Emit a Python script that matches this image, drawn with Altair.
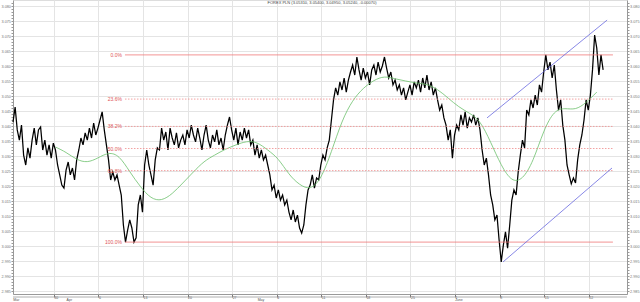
import altair as alt
import pandas as pd

# ---------------- data ----------------
start_time = "2009-03-23 14:00"
step = "8h"

price = [
    3.0413, 3.0463, 3.0387, 3.0353, 3.0403, 3.0303, 3.0270, 3.0327, 3.0293, 3.0353,
    3.0393, 3.0337, 3.0387, 3.0397, 3.0320, 3.0353, 3.0303, 3.0337, 3.0293, 3.0343,
    3.0320, 3.0270, 3.0237, 3.0203, 3.0193, 3.0253, 3.0280, 3.0237, 3.0260, 3.0220,
    3.0287, 3.0320, 3.0360, 3.0337, 3.0377, 3.0353, 3.0393, 3.0360, 3.0410, 3.0370,
    3.0393, 3.0420, 3.0447, 3.0387, 3.0337, 3.0287, 3.0220, 3.0247, 3.0220, 3.0237,
    3.0203, 3.0170, 3.0070, 3.0013, 3.0053, 3.0087, 3.0060, 3.0013, 3.0027, 3.0137,
    3.0170, 3.0113, 3.0270, 3.0320, 3.0270, 3.0237, 3.0203, 3.0287, 3.0327, 3.0320,
    3.0393, 3.0353, 3.0380, 3.0320, 3.0393, 3.0360, 3.0337, 3.0377, 3.0327, 3.0353,
    3.0370, 3.0337, 3.0387, 3.0360, 3.0403, 3.0370, 3.0347, 3.0393, 3.0360, 3.0320,
    3.0370, 3.0403, 3.0353, 3.0327, 3.0370, 3.0347, 3.0387, 3.0337, 3.0360, 3.0320,
    3.0370, 3.0403, 3.0430, 3.0387, 3.0353, 3.0393, 3.0337, 3.0380, 3.0353, 3.0393,
    3.0360, 3.0387, 3.0337, 3.0353, 3.0303, 3.0337, 3.0293, 3.0320, 3.0287, 3.0303,
    3.0270, 3.0237, 3.0187, 3.0203, 3.0160, 3.0187, 3.0153, 3.0170, 3.0137, 3.0153,
    3.0113, 3.0087, 3.0120, 3.0080, 3.0103, 3.0060, 3.0043, 3.0070, 3.0137, 3.0187,
    3.0203, 3.0237, 3.0193, 3.0227, 3.0220, 3.0270, 3.0303, 3.0287, 3.0327, 3.0353,
    3.0420, 3.0487, 3.0527, 3.0503, 3.0547, 3.0520, 3.0560, 3.0513, 3.0553, 3.0580,
    3.0603, 3.0570, 3.0630, 3.0587, 3.0553, 3.0593, 3.0560, 3.0580, 3.0537, 3.0587,
    3.0603, 3.0570, 3.0613, 3.0580, 3.0600, 3.0630, 3.0593, 3.0560, 3.0580, 3.0537,
    3.0553, 3.0520, 3.0537, 3.0503, 3.0527, 3.0487, 3.0513, 3.0537, 3.0503, 3.0547,
    3.0527, 3.0553, 3.0513, 3.0560, 3.0527, 3.0570, 3.0520, 3.0547, 3.0503, 3.0527,
    3.0487, 3.0453, 3.0470, 3.0427, 3.0403, 3.0353, 3.0387, 3.0293, 3.0370, 3.0403,
    3.0387, 3.0437, 3.0403, 3.0447, 3.0393, 3.0427, 3.0413, 3.0437, 3.0403, 3.0427,
    3.0387, 3.0320, 3.0270, 3.0293, 3.0237, 3.0170, 3.0137, 3.0087, 3.0103, 3.0020,
    2.9947, 3.0003, 3.0047, 2.9993, 3.0070, 3.0153, 3.0187, 3.0170, 3.0247, 3.0303,
    3.0353, 3.0327, 3.0453, 3.0437, 3.0487, 3.0460, 3.0503, 3.0470, 3.0537, 3.0513,
    3.0580, 3.0637, 3.0587, 3.0613, 3.0560, 3.0603, 3.0520, 3.0453, 3.0487, 3.0403,
    3.0353, 3.0270, 3.0237, 3.0207, 3.0227, 3.0210, 3.0287, 3.0337, 3.0370, 3.0420,
    3.0487, 3.0453, 3.0503, 3.0587, 3.0703, 3.0660, 3.0570, 3.0637, 3.0587,
]

ma_index = list(range(20, 280, 5))
ma_values = [
    3.0330, 3.0313, 3.0287, 3.0277, 3.0293, 3.0313, 3.0303, 3.0247, 3.0197, 3.0157,
    3.0150, 3.0173, 3.0210, 3.0247, 3.0283, 3.0303, 3.0323, 3.0337, 3.0350, 3.0347,
    3.0320, 3.0293, 3.0237, 3.0203, 3.0187, 3.0220, 3.0313, 3.0420, 3.0487, 3.0527,
    3.0553, 3.0567, 3.0557, 3.0550, 3.0543, 3.0540, 3.0523, 3.0493, 3.0463, 3.0443,
    3.0420, 3.0347, 3.0267, 3.0213, 3.0220, 3.0280, 3.0387, 3.0453, 3.0460, 3.0453,
    3.0477, 3.0513,
]

fib_pcts = [0.0, 23.6, 38.2, 50.0, 61.8, 100.0]
fib_labels = ["0.0%", "23.6%", "38.2%", "50.0%", "61.8%", "100.0%"]
fib_dash = ["solid", "dot", "dot", "dot", "dot", "solid"]
fib_high = 3.0637
fib_low = 3.0013
fib_from = "2009-04-10T04:00:00"
fib_to = "2009-06-25T19:00:00"

chan_id = ["upper", "upper", "lower", "lower"]
chan_time = ["2009-06-06T00:30:00", "2009-06-24T21:00:00",
             "2009-06-08T13:00:00", "2009-06-25T15:30:00"]
chan_value = [3.0427, 3.0753, 2.9947, 3.0260]

month_names = ["Mar", "Apr", "May", "June"]
month_dates = ["2009-03-23T15:00:00", "2009-04-01T00:00:00",
               "2009-05-01T00:00:00", "2009-06-01T00:00:00"]

title_text = "FOREX PLN (3.05310, 3.05400, 3.04950, 3.05240, -0.00070)"

# ---------------- tables ----------------
times = pd.date_range(start_time, periods=len(price), freq=step)
df_price = pd.DataFrame({"t": times, "v": price})
df_ma = pd.DataFrame({"t": [times[i] for i in ma_index], "v": ma_values})
df_fib = pd.DataFrame({
    "t": [fib_from] * len(fib_pcts),
    "t2": [fib_to] * len(fib_pcts),
    "v": [fib_high - p / 100.0 * (fib_high - fib_low) for p in fib_pcts],
    "label": fib_labels,
    "dash": fib_dash,
})
df_chan = pd.DataFrame({"id": chan_id, "t": chan_time, "v": chan_value})
df_month = pd.DataFrame({"m": month_names, "t": month_dates})

W, H = 614, 294
xscale = alt.Scale(domain=[alt.DateTime(year=2009, month=3, date=23, hours=14),
                           alt.DateTime(year=2009, month=6, date=28, hours=0)])
yscale = alt.Scale(domain=[2.984, 3.082], nice=False, zero=False)

mondays = [alt.DateTime(year=2009, month=m, date=d) for m, d in
           [(3, 30), (4, 6), (4, 13), (4, 20), (4, 27), (5, 4), (5, 11), (5, 18),
            (5, 25), (6, 1), (6, 8), (6, 15), (6, 22)]]
yvals = [round(2.985 + k * 0.001, 3) for k in range(0, 97)]
major_test = "abs(round(datum.value*1000)) % 5 == 0"

label_font = "Liberation Sans"

def yaxis(orient, grid):
    return alt.Axis(
        orient=orient, values=yvals, grid=grid,
        gridColor="#e4e4e4",
        gridOpacity={"condition": {"test": major_test, "value": 1}, "value": 0},
        labelExpr=f"{major_test} ? format(datum.value, '.3f') : ''",
        labelOverlap=False, labelFontSize=3.8, labelColor="#777", labelFont=label_font,
        labelPadding=0.5, tickSize=2, tickColor="#999", domainColor="#999",
        labelBound=False, title=None,
    )

xaxis = alt.Axis(
    values=mondays, format="%-d", grid=True, gridColor="#e4e4e4",
    labelFontSize=3.5, labelColor="#555", labelFont=label_font, labelAlign="left",
    labelPadding=-2, labelBaseline="top", tickSize=3, tickColor="#777",
    domainColor="#999", title=None, labelOverlap=False,
)

price_line = alt.Chart(df_price).mark_line(color="black", strokeWidth=1.25).encode(
    x=alt.X("t:T", scale=xscale, axis=xaxis),
    y=alt.Y("v:Q", scale=yscale, axis=yaxis("left", True)),
)

ma_line = alt.Chart(df_ma).mark_line(color="#6cc06c", strokeWidth=0.8, interpolate="basis").encode(
    x=alt.X("t:T", scale=xscale, axis=None),
    y=alt.Y("v:Q", scale=yscale, axis=yaxis("right", False)),
)

fib_rules = alt.Chart(df_fib).mark_rule(strokeWidth=0.8).encode(
    x=alt.X("t:T", scale=xscale, axis=None),
    x2="t2:T",
    y=alt.Y("v:Q", scale=yscale, axis=None),
    color=alt.Color("dash:N", scale=alt.Scale(domain=["solid", "dot"],
                                               range=["#f07878", "#f08a8a"]), legend=None),
    strokeDash=alt.StrokeDash("dash:N", scale=alt.Scale(domain=["solid", "dot"],
                                                        range=[[1, 0], [1.5, 1.5]]), legend=None),
)

fib_text = alt.Chart(df_fib).mark_text(align="right", baseline="middle", dx=-3,
                                       fontSize=5, color="#e05555", font=label_font).encode(
    x=alt.X("t:T", scale=xscale, axis=None),
    y=alt.Y("v:Q", scale=yscale, axis=None),
    text="label:N",
)

chan = alt.Chart(df_chan).mark_line(color="#6a6ae0", strokeWidth=0.8).encode(
    x=alt.X("t:T", scale=xscale, axis=None),
    y=alt.Y("v:Q", scale=yscale, axis=None),
    detail="id:N",
)

title = alt.Chart(pd.DataFrame({"s": [title_text]})).mark_text(
    fontSize=4, color="#444", font=label_font, baseline="middle", align="center"
).encode(x=alt.value(W / 2 + 2), y=alt.value(3), text="s:N")

strip = alt.Chart(pd.DataFrame({"a": [0]})).mark_rule(color="#999", strokeWidth=0.8).encode(
    x=alt.value(0), x2=alt.value(W), y=alt.value(H + 3)
)

months = alt.Chart(df_month).mark_text(fontSize=3.5, color="#555", font=label_font,
                                       align="left", baseline="middle").encode(
    x=alt.X("t:T", scale=xscale, axis=None),
    y=alt.value(H + 6),
    text="m:N",
)

chart = alt.layer(
    price_line, ma_line, fib_rules, fib_text, chan, title, strip, months
).resolve_axis(y="independent", x="independent").properties(
    width=W, height=H,
    autosize=alt.AutoSizeParams(type="none"),
    padding={"left": 13, "right": 13, "top": 0, "bottom": 8},
).configure_view(stroke=None).configure(background="white")

chart.save("out.html", embed_options={"renderer": "svg", "actions": False})
